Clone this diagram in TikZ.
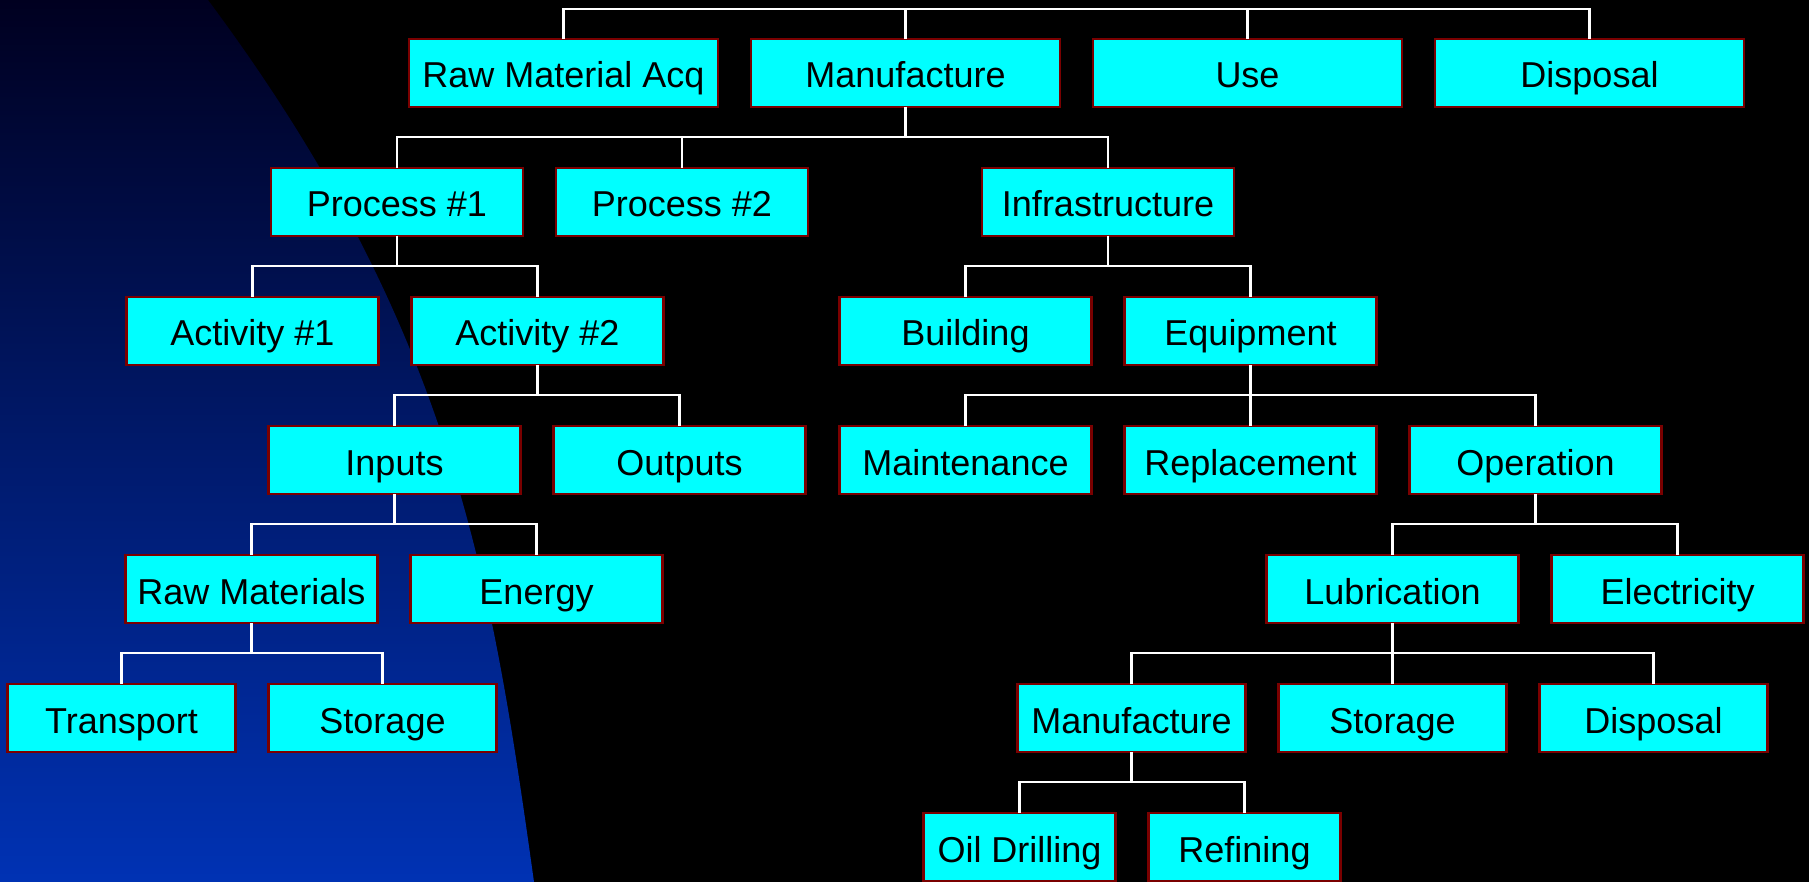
\documentclass[tikz,border=0pt]{standalone}
\usepackage{fontspec}
\setmainfont{Liberation Sans}
\usetikzlibrary{positioning}

\definecolor{boxfill}{HTML}{00FFFF}
\definecolor{boxline}{HTML}{7A0000}
\definecolor{deepnavy}{HTML}{000020}
\definecolor{royal}{HTML}{0032B4}

\tikzset{
  stage/.style={draw=boxline, fill=boxfill, line width=2.6pt, minimum height=68pt,
    inner sep=0pt, outer sep=0pt, text height=30pt, text depth=0pt,
    font=\fontsize{36}{40}\selectfont},
  stagewide/.style={stage, minimum width=309pt},
  stagemid/.style={stage, minimum width=252pt},
  stagenarrow/.style={stage, minimum width=228pt},
  stagesmall/.style={stage, minimum width=192pt},
  link/.style={draw=white, line width=2.4pt},
}
\newcommand{\branch}[2]{\foreach \kid in {#2} \draw[link] (#1.south) -- ++(0,30) -| (\kid.north);}

\begin{document}
\begin{tikzpicture}[x=1pt, y=-1pt, node distance=61pt and 33pt]

  % Background
  \useasboundingbox (0,0) rectangle (1809,882);
  \fill[black] (0,0) rectangle (1809,882);
  \shade[top color=deepnavy, bottom color=royal]
    (0,0) -- (208,0) .. controls (454,330) and (492,582) .. (534,882) -- (0,882) -- cycle;

  % Life cycle stages
  \node[stagewide] (rawacq) at (563.5,73) {Raw Material Acq};
  \node[stagewide, right=of rawacq] (manu) {Manufacture};
  \node[stagewide, right=of manu] (use) {Use};
  \node[stagewide, right=of use] (disp) {Disposal};

  % Manufacture
  \node[stagemid, below=of manu, xshift=-508.5pt] (proc1) {Process \#1};
  \node[stagemid, right=of proc1] (proc2) {Process \#2};
  \node[stagemid, below=of manu, xshift=202.5pt] (infra) {Infrastructure};

  % Process #1
  \node[stagemid, below=of proc1, xshift=-144.5pt] (act1) {Activity \#1};
  \node[stagemid, right=of act1] (act2) {Activity \#2};
  \node[stagemid, below=of act2, xshift=-143pt] (inputs) {Inputs};
  \node[stagemid, right=of inputs] (outputs) {Outputs};
  \node[stagemid, below=of inputs, xshift=-143pt] (rawmat) {Raw Materials};
  \node[stagemid, right=of rawmat] (energy) {Energy};
  \node[stagenarrow, below=of rawmat, xshift=-130pt] (transport) {Transport};
  \node[stagenarrow, right=of transport] (store) {Storage};

  % Infrastructure
  \node[stagemid, below=of infra, xshift=-142.5pt] (building) {Building};
  \node[stagemid, right=of building] (equip) {Equipment};
  \node[stagemid, below=of equip] (replace) {Replacement};
  \node[stagemid, left=of replace] (maint) {Maintenance};
  \node[stagemid, right=of replace] (oper) {Operation};
  \node[stagemid, below=of oper, xshift=-143pt] (lube) {Lubrication};
  \node[stagemid, right=of lube] (elec) {Electricity};
  \node[stagenarrow, below=of lube] (lubestore) {Storage};
  \node[stagenarrow, left=of lubestore] (lubemanu) {Manufacture};
  \node[stagenarrow, right=of lubestore] (lubedisp) {Disposal};
  \node[stagesmall, below=of lubemanu, xshift=-112pt] (drill) {Oil Drilling};
  \node[stagesmall, right=of drill] (refine) {Refining};

  % Connectors
  \coordinate (root) at (1076.5,9);
  \foreach \kid in {rawacq, manu, use, disp} \draw[link] (root) -| (\kid.north);
  \branch{manu}{proc1, proc2, infra}
  \branch{proc1}{act1, act2}
  \branch{act2}{inputs, outputs}
  \branch{inputs}{rawmat, energy}
  \branch{rawmat}{transport, store}
  \branch{infra}{building, equip}
  \branch{equip}{maint, replace, oper}
  \branch{oper}{lube, elec}
  \branch{lube}{lubemanu, lubestore, lubedisp}
  \branch{lubemanu}{drill, refine}

\end{tikzpicture}
\end{document}
